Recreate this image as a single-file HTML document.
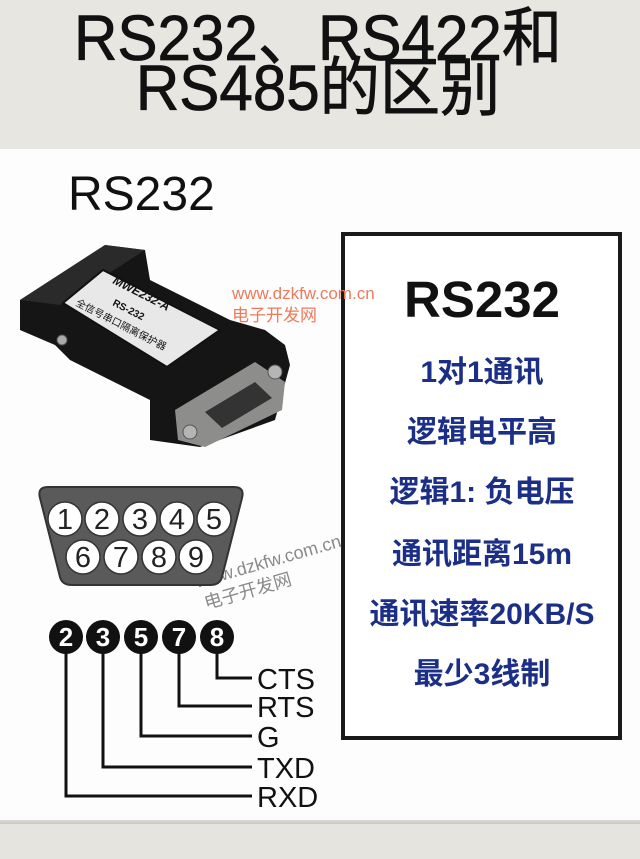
<!DOCTYPE html>
<html><head><meta charset="utf-8">
<style>
html,body{margin:0;padding:0;width:640px;height:859px;overflow:hidden;background:#e9e7e2;}
svg{display:block}
</style></head>
<body>
<svg width="640" height="859" viewBox="0 0 640 859" xmlns="http://www.w3.org/2000/svg">
<rect x="0" y="0" width="640" height="149" fill="#e8e6e0"/>
<rect x="0" y="149" width="640" height="673" fill="#fdfdfd"/>
<rect x="0" y="822" width="640" height="37" fill="#e6e4df"/>
<rect x="0" y="820" width="640" height="4" fill="#bdbcb8" opacity="0.6"/>

<g font-family="'Liberation Sans','Noto Sans CJK SC',sans-serif" fill="#111">
<text x="318" y="60" font-size="64" text-anchor="middle" stroke="#111" stroke-width="0.8" transform="translate(318 0) scale(0.94 1) translate(-318 0)">RS232、RS422和</text>
<text x="318" y="110" font-size="64" text-anchor="middle" stroke="#111" stroke-width="0.8" transform="translate(318 0) scale(0.94 1) translate(-318 0)">RS485的区别</text>
<text x="68" y="210" font-size="48">RS232</text>
</g>

<!-- right box -->
<rect x="343" y="234" width="277" height="504" fill="#fff" stroke="#1a1a1a" stroke-width="4"/>
<g font-family="'Liberation Sans','Noto Sans CJK SC',sans-serif" text-anchor="middle">
<text x="482" y="317" font-size="51" font-weight="bold" fill="#111">RS232</text>
<g fill="#1c2f86" font-size="30" font-weight="bold">
<text x="482" y="382">1对1通讯</text>
<text x="482" y="442">逻辑电平高</text>
<text x="482" y="502">逻辑1: 负电压</text>
<text x="482" y="564">通讯距离15m</text>
<text x="482" y="624">通讯速率20KB/S</text>
<text x="482" y="684">最少3线制</text>
</g>
</g>

<!-- device -->
<g>
<polygon points="20,300 105,245 145,250 150,280 230,320 265,330 285,345 290,365 275,420 200,447 150,440 150,400 70,360 55,345 20,330" fill="#151515"/>
<polygon points="20,300 105,245 145,250 60,305" fill="#2a2a2a"/>
<polygon points="103,270 220,330 167,367 63,303" fill="#e8e8e8" stroke="#111" stroke-width="2"/>
<text x="112" y="283" font-family="'Liberation Sans',sans-serif" font-size="12" font-weight="bold" font-style="italic" fill="#111" transform="rotate(27 112 283)">MWE232-A</text>
<text x="112" y="305" font-family="'Liberation Sans',sans-serif" font-size="10" font-weight="bold" fill="#111" transform="rotate(27 112 305)">RS-232</text>
<text x="75" y="305" font-family="'Liberation Sans','Noto Sans CJK SC',sans-serif" font-size="10" fill="#111" transform="rotate(27 75 305)">全信号串口隔离保护器</text>
<polygon points="175,410 255,362 285,382 282,410 205,447 178,440" fill="#8d8d8b"/>
<polygon points="205,412 255,382 272,398 222,428" fill="#333"/>
<circle cx="190" cy="432" r="7" fill="#b5b5b5" stroke="#555"/>
<circle cx="275" cy="372" r="7" fill="#b5b5b5" stroke="#555"/>
<circle cx="62" cy="340" r="5" fill="#aaa" stroke="#555"/>
</g>

<!-- watermarks -->
<g font-family="'Liberation Sans','Noto Sans CJK SC',sans-serif" fill="#ee7a5c">
<text x="232" y="299" font-size="17">www.dzkfw.com.cn</text>
<text x="232" y="321" font-size="17">电子开发网</text>
</g>
<g font-family="'Liberation Sans','Noto Sans CJK SC',sans-serif" fill="#8a8a8a" transform="rotate(-16 197 588)">
<text x="197" y="588" font-size="18">www.dzkfw.com.cn</text>
<text x="200" y="611" font-size="18">电子开发网</text>
</g>

<!-- D-sub -->
<path d="M48,487 L234,487 Q245,487 242,498 L222,577 Q220,585 210,585 L72,585 Q62,585 60,577 L40,498 Q37,487 48,487 Z" fill="#5a5a5a" stroke="#333" stroke-width="2"/>
<g fill="#fff" stroke="#333" stroke-width="1.5">
<circle cx="65" cy="519" r="17"/><circle cx="102" cy="519" r="17"/><circle cx="140" cy="519" r="17"/><circle cx="177" cy="519" r="17"/><circle cx="214" cy="519" r="17"/>
<circle cx="83" cy="557" r="17"/><circle cx="121" cy="557" r="17"/><circle cx="159" cy="557" r="17"/><circle cx="196" cy="557" r="17"/>
</g>
<g font-family="'Liberation Sans',sans-serif" font-size="29" fill="#222" text-anchor="middle">
<text x="65" y="529">1</text><text x="102" y="529">2</text><text x="140" y="529">3</text><text x="177" y="529">4</text><text x="214" y="529">5</text>
<text x="83" y="567">6</text><text x="121" y="567">7</text><text x="159" y="567">8</text><text x="196" y="567">9</text>
</g>

<!-- pinout -->
<g stroke="#111" stroke-width="3" fill="none">
<polyline points="217,645 217,678 252,678"/>
<polyline points="179,645 179,706 252,706"/>
<polyline points="141,645 141,736 252,736"/>
<polyline points="103,645 103,767 252,767"/>
<polyline points="66,645 66,796 252,796"/>
</g>
<g fill="#111">
<circle cx="66" cy="637" r="17"/><circle cx="103" cy="637" r="17"/><circle cx="141" cy="637" r="17"/><circle cx="179" cy="637" r="17"/><circle cx="217" cy="637" r="17"/>
</g>
<g font-family="'Liberation Sans',sans-serif" font-size="26" font-weight="bold" fill="#fff" text-anchor="middle">
<text x="66" y="646">2</text><text x="103" y="646">3</text><text x="141" y="646">5</text><text x="179" y="646">7</text><text x="217" y="646">8</text>
</g>
<g font-family="'Liberation Sans',sans-serif" font-size="29" fill="#111">
<text x="257" y="689">CTS</text>
<text x="257" y="717">RTS</text>
<text x="257" y="747">G</text>
<text x="257" y="778">TXD</text>
<text x="257" y="807">RXD</text>
</g>
</svg>
</body></html>
